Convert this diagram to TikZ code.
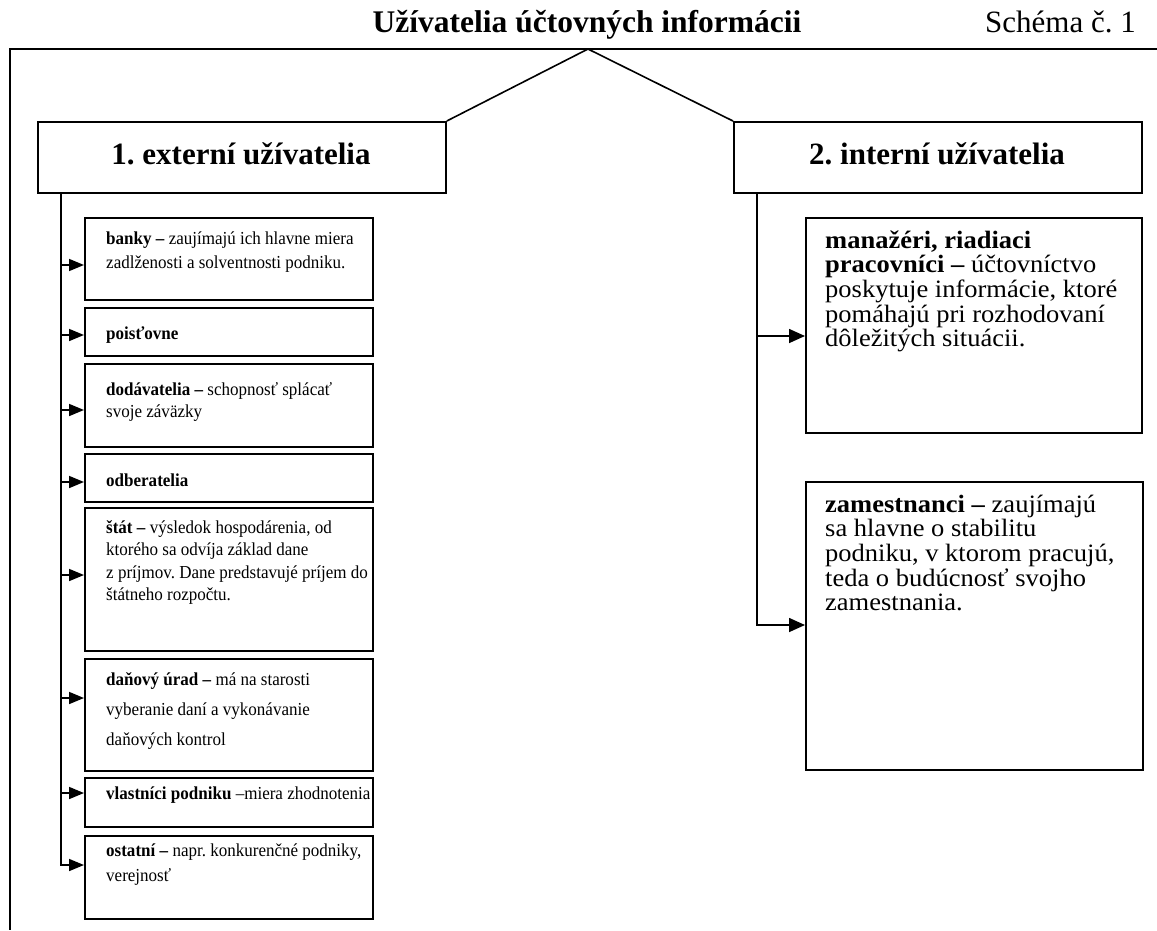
\documentclass[tikz,border=0pt]{standalone}
\usepackage{fontspec}
\setmainfont{Liberation Serif}
\newfontfamily\leftfnt[FakeStretch=0.93]{Liberation Serif}
\newfontfamily\rightfnt[FakeStretch=1.06]{Liberation Serif}
\usetikzlibrary{arrows.meta}
\newcommand\txtline[1]{\hbox{\strut #1}}
\frenchspacing
\begin{document}
\lineskiplimit=-100pt
\lineskip=0pt
\begin{tikzpicture}[x=1pt,y=-1pt,
  box/.style={draw, line width=1.8pt, inner sep=0, anchor=north west},
  conn/.style={line width=1.6pt},
  arrL/.style={line width=1.6pt, -{Triangle[length=15pt,width=12pt]}},
  arrR/.style={line width=1.6pt, -{Triangle[length=16pt,width=14pt]}},
  lefttxt/.style={anchor=base west, inner sep=0, font=\leftfnt\fontsize{18.3}{22.5}\selectfont},
  righttxt/.style={anchor=base west, inner sep=0, font=\rightfnt\fontsize{25}{24.7}\selectfont},
  head/.style={anchor=base, inner sep=0, font=\fontsize{31}{36}\selectfont\bfseries}]
\useasboundingbox (0,0) rectangle (1157,930);
% frame
\coordinate (fTL) at (10,49);
\coordinate (fTR) at (1157,49);
\coordinate (fBL) at (10,930);
\draw[conn] (fTR) -- (fTL) -- (fBL);
\node[head, font=\fontsize{31.5}{36}\selectfont\bfseries] (title) at (587,32) {Užívatelia účtovných informácii};
\node[anchor=base west, inner sep=0, font=\fontsize{31}{36}\selectfont] (schema) at (985,32) {Schéma č. 1};
% level 1 boxes
\node[box, minimum width=408, minimum height=71] (ext) at (37,121) {};
\node[head] (extT) at (241,164) {1. externí užívatelia};
\node[box, minimum width=408, minimum height=71] (int) at (733,121) {};
\node[head] (intT) at (937,164) {2. interní užívatelia};
\coordinate (apex) at (588,49);
\draw[conn] (ext.north east) -- (apex) -- (int.north west);
% left column boxes
\node[box, minimum width=288, minimum height=82] (b1) at (84,217) {};
\node[box, minimum width=288, minimum height=48] (b2) at (84,307) {};
\node[box, minimum width=288, minimum height=83] (b3) at (84,363) {};
\node[box, minimum width=288, minimum height=48] (b4) at (84,453) {};
\node[box, minimum width=288, minimum height=143] (b5) at (84,507) {};
\node[box, minimum width=288, minimum height=112] (b6) at (84,658) {};
\node[box, minimum width=288, minimum height=49] (b7) at (84,777) {};
\node[box, minimum width=288, minimum height=83] (b8) at (84,835) {};
\node[lefttxt, font=\leftfnt\fontsize{18.3}{24}\selectfont] (t1) at (106,244) {\vtop{\txtline{\textbf{banky –} zaujímajú ich hlavne miera}\txtline{zadlženosti a solventnosti podniku.}}};
\node[lefttxt] (t2) at (106,339) {\vtop{\txtline{\textbf{poisťovne}}}};
\node[lefttxt] (t3) at (106,395) {\vtop{\txtline{\textbf{dodávatelia –} schopnosť splácať}\txtline{svoje záväzky}}};
\node[lefttxt] (t4) at (106,486) {\vtop{\txtline{\textbf{odberatelia}}}};
\node[lefttxt] (t5) at (106,533) {\vtop{\txtline{\textbf{štát –} výsledok hospodárenia, od}\txtline{ktorého sa odvíja základ dane}\txtline{z príjmov. Dane predstavujé príjem do}\txtline{štátneho rozpočtu.}}};
\node[lefttxt, font=\leftfnt\fontsize{18.3}{30}\selectfont] (t6) at (106,685) {\vtop{\txtline{\textbf{daňový úrad –} má na starosti}\txtline{vyberanie daní a vykonávanie}\txtline{daňových kontrol}}};
\node[lefttxt] (t7) at (106,799) {\vtop{\txtline{\textbf{vlastníci podniku} –miera zhodnotenia}}};
\node[lefttxt, font=\leftfnt\fontsize{18.3}{25}\selectfont] (t8) at (106,856) {\vtop{\txtline{\textbf{ostatní –} napr. konkurenčné podniky,}\txtline{verejnosť}}};
% left trunk and arrows
\coordinate (lx) at (61,0);
\coordinate (a1) at (61,265);
\coordinate (a2) at (61,335);
\coordinate (a3) at (61,410);
\coordinate (a4) at (61,482);
\coordinate (a5) at (61,575);
\coordinate (a6) at (61,698);
\coordinate (a7) at (61,793);
\coordinate (a8) at (61,865);
\draw[arrL] (ext.south -| lx) -- (a8) -- (a8 -| b8.west);
\foreach \i in {1,...,7} {\draw[arrL] (a\i) -- (a\i -| b\i.west);}
% right column
\node[box, minimum width=336, minimum height=215] (m) at (805,217) {};
\node[box, minimum width=337, minimum height=288] (z) at (805,481) {};
\node[righttxt] (tm) at (825,248) {\vtop{\txtline{\textbf{manažéri, riadiaci}}\txtline{\textbf{pracovníci –} účtovníctvo}\txtline{poskytuje informácie, ktoré}\txtline{pomáhajú pri rozhodovaní}\txtline{dôležitých situácii.}}};
\node[righttxt] (tz) at (825,512) {\vtop{\txtline{\textbf{zamestnanci –} zaujímajú}\txtline{sa hlavne o stabilitu}\txtline{podniku, v ktorom pracujú,}\txtline{teda o budúcnosť svojho}\txtline{zamestnania.}}};
\coordinate (rx) at (757,0);
\coordinate (r1) at (757,336);
\coordinate (r2) at (757,625);
\draw[arrR] (int.south -| rx) -- (r2) -- (r2 -| z.west);
\draw[arrR] (r1) -- (r1 -| m.west);
\end{tikzpicture}
\end{document}
